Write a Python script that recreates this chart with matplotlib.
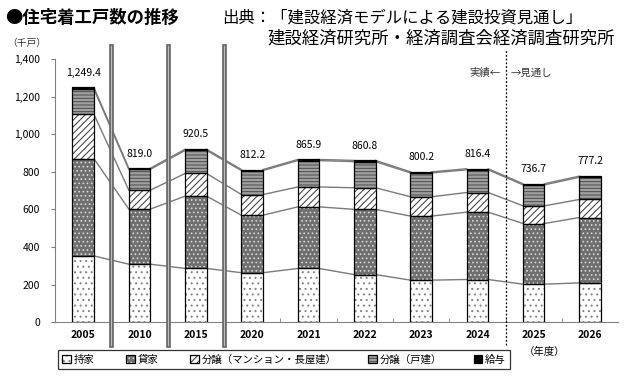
import matplotlib.pyplot as plt
import numpy as np
from matplotlib.patches import Patch
from matplotlib.ticker import FuncFormatter, MultipleLocator

plt.rcParams['font.family'] = ['Noto Sans CJK JP', 'DejaVu Sans']
plt.rcParams['hatch.linewidth'] = 0.7

# 年度と住宅着工戸数（千戸）
years = ['2005', '2010', '2015', '2020', '2021', '2022', '2023', '2024', '2025', '2026']
total_labels = [1249.4, 819.0, 920.5, 812.2, 865.9, 860.8, 800.2, 816.4, 736.7, 777.2]
mochiie = [352.6, 308.5, 286.0, 263.1, 285.6, 253.3, 223.6, 227.0, 202.0, 209.0]
kashiya = [518.0, 293.0, 384.7, 306.0, 328.0, 347.0, 341.0, 358.6, 323.0, 348.0]
mansion = [236.0, 101.0, 120.8, 110.0, 106.0, 115.0, 103.0, 104.4, 94.0, 96.0]
kodate = [134.0, 110.5, 122.6, 127.6, 140.3, 139.0, 126.6, 120.9, 111.7, 118.2]
kyuyo = [8.8, 6.0, 6.4, 5.5, 6.0, 6.5, 6.0, 5.5, 6.0, 6.0]

series = [
    ('持家', mochiie, 'white', '...', '#808080'),
    ('貸家', kashiya, '#6f6f6f', '....', '#d8d8d8'),
    ('分譲（マンション・長屋建）', mansion, 'white', '/////', '#333333'),
    ('分譲（戸建）', kodate, '#a0a0a0', '-----', '#4a4a4a'),
    ('給与', kyuyo, 'black', None, 'black'),
]

fig = plt.figure(figsize=(6.4, 3.79), dpi=100)
ax = fig.add_axes([0.086, 0.150, 0.880, 0.694])

x = np.arange(len(years))
width = 0.38
bottom = np.zeros(len(years))
handles = []
tops = []
for name, vals, fc, hatch, hc in series:
    vals = np.array(vals)
    ax.bar(x, vals, width, bottom=bottom, facecolor=fc, hatch=hatch,
           edgecolor=hc, linewidth=0, zorder=2)
    ax.bar(x, vals, width, bottom=bottom, fill=False, edgecolor='black',
           linewidth=0.9, zorder=3)
    bottom = bottom + vals
    tops.append(bottom.copy())
    handles.append((Patch(facecolor=fc, hatch=hatch, edgecolor=hc, linewidth=0),
                    Patch(fill=False, edgecolor='black', linewidth=0.9)))

# 系列線
for t in tops:
    for i in range(len(years) - 1):
        ax.plot([x[i] + width / 2, x[i + 1] - width / 2], [t[i], t[i + 1]],
                color='#7a7a7a', linewidth=1.0, zorder=1)

for i, v in enumerate(total_labels):
    ax.annotate(f'{v:,.1f}', (x[i], bottom[i]), xytext=(0, 7),
                textcoords='offset points', ha='center', va='bottom', fontsize=7.5)

# 区切り線
for xv in [0.5, 1.5, 2.5]:
    ax.axvline(xv, ymin=-0.088, ymax=1.05, color='#6a6a6a', linewidth=3.4,
               clip_on=False, zorder=4)
    ax.axvline(xv, ymin=-0.088, ymax=1.05, color='#bdbdbd', linewidth=0.8,
               clip_on=False, zorder=5)
ax.axvline(7.5, ymin=-0.088, ymax=1.04, color='black', linewidth=0.9,
           linestyle=(0, (1.5, 1.5)), clip_on=False, zorder=4)
ax.text(7.42, 1325, '実績←', ha='right', va='center', fontsize=7.5, color='#333333')
ax.text(7.58, 1325, '→見通し', ha='left', va='center', fontsize=7.5, color='#333333')

ax.set_xlim(-0.5, 9.5)
ax.set_ylim(0, 1400)
ax.yaxis.set_major_locator(MultipleLocator(200))
ax.yaxis.set_major_formatter(FuncFormatter(lambda v, p: f'{v:,.0f}'))
ax.set_xticks(x)
ax.set_xticklabels(years, fontsize=7.5, fontweight='bold')
ax.set_xticks(np.arange(0.5, 9.5, 1), minor=True)
ax.tick_params(axis='x', which='major', length=0, pad=6)
ax.tick_params(axis='x', which='minor', direction='in', length=3, color='#808080')
ax.tick_params(axis='y', labelsize=7.5, length=3, color='#808080', pad=8)
for s in ['top', 'right']:
    ax.spines[s].set_visible(False)
for s in ['left', 'bottom']:
    ax.spines[s].set_color('#808080')

fig.text(0.008, 0.952, '●住宅着工戸数の推移', fontsize=12.5, fontweight='bold', va='center')
fig.text(0.347, 0.952, '出典：「建設経済モデルによる建設投資見通し」', fontsize=11.8, va='center')
fig.text(0.417, 0.898, '建設経済研究所・経済調査会経済調査研究所', fontsize=12.5, va='center')
fig.text(0.012, 0.886, '（千戸）', fontsize=7, va='center', color='#333333')
fig.text(0.818, 0.072, '（年度）', fontsize=7.5, va='center')

leg = fig.legend(handles, [s[0] for s in series], loc='center', ncol=5,
                 bbox_to_anchor=(0.083, 0.018, 0.722, 0.066), mode='expand',
                 fontsize=7.5, handlelength=0.8, handleheight=0.8, handletextpad=0.3,
                 frameon=True, fancybox=False, edgecolor='black', borderpad=0.4)
leg.get_frame().set_linewidth(0.9)

fig.savefig('out.png', dpi=100)
